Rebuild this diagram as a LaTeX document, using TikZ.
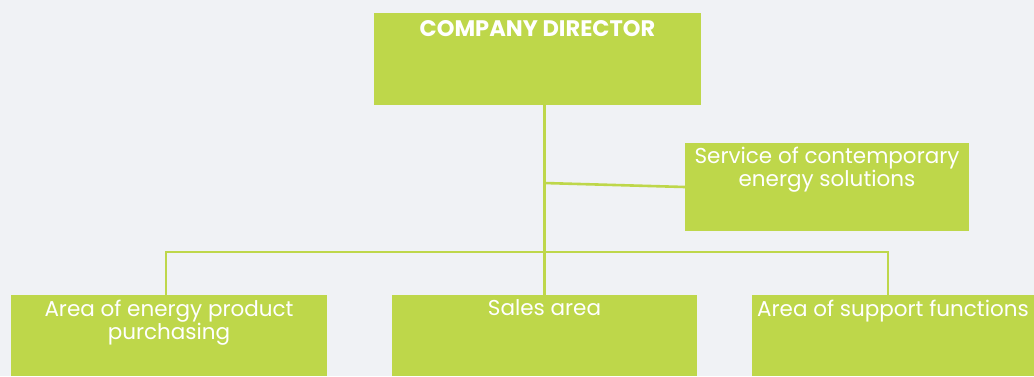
\documentclass[tikz,border=0pt]{standalone}
\usepackage{fontspec}
\setmainfont{Poppins}
\usepackage{tikz}
\usetikzlibrary{positioning}
\definecolor{lime}{RGB}{190, 215, 74}
\definecolor{paper}{RGB}{240, 242, 245}
\tikzstyle{unit} = [rectangle, draw=none, fill=lime, inner sep=0pt]
\tikzstyle{lbl} = [draw=none, fill=none, text=white, align=center, inner sep=0pt, font=\fontsize{21.5}{20.5}\selectfont]
\tikzstyle{link} = [draw=lime, line width=2.6pt]

\begin{document}
\begin{tikzpicture}[x=1pt, y=-1pt]

% canvas =============================
\fill[paper] (0,0) rectangle (1034,376);
\useasboundingbox (0,0) rectangle (1034,376);

% units
\node[unit, minimum width=327pt, minimum height=92pt] (director) at (537.5,59) {};
\node[unit, minimum width=284pt, minimum height=88pt] (service) at (827,187) {};
\node[unit, minimum width=316pt, minimum height=81pt] (purchase) at (169,335.5) {};
\node[unit, minimum width=305pt, minimum height=81pt] (sales) at (544.5,335.5) {};
\node[unit, minimum width=282pt, minimum height=81pt] (support) at (893,335.5) {};

% texts
\node[lbl, font=\fontsize{22.5}{22}\selectfont\bfseries, below=7pt of director.north] (directortxt) {COMPANY DIRECTOR};
\node[lbl, below=4.5pt of service.north] (servicetxt) {Service of contemporary\\energy solutions};
\node[lbl, below=5pt of purchase.north] (purchasetxt) {Area of energy product\\purchasing};
\node[lbl, below=5pt of sales.north] (salestxt) {Sales area};
\node[lbl, below=5pt of support.north] (supporttxt) {Area of support functions};

% edges
\coordinate (bus) at (544,252);
\coordinate (tap) at (544,183);
\path[link] (sales.north) -- (sales.north |- director.south);
\path[link] (tap) -- (service.west);
\path[link] ([xshift=-3pt]purchase.north) |- (bus) -| ([xshift=-5pt]support.north);

\end{tikzpicture}
\end{document}
